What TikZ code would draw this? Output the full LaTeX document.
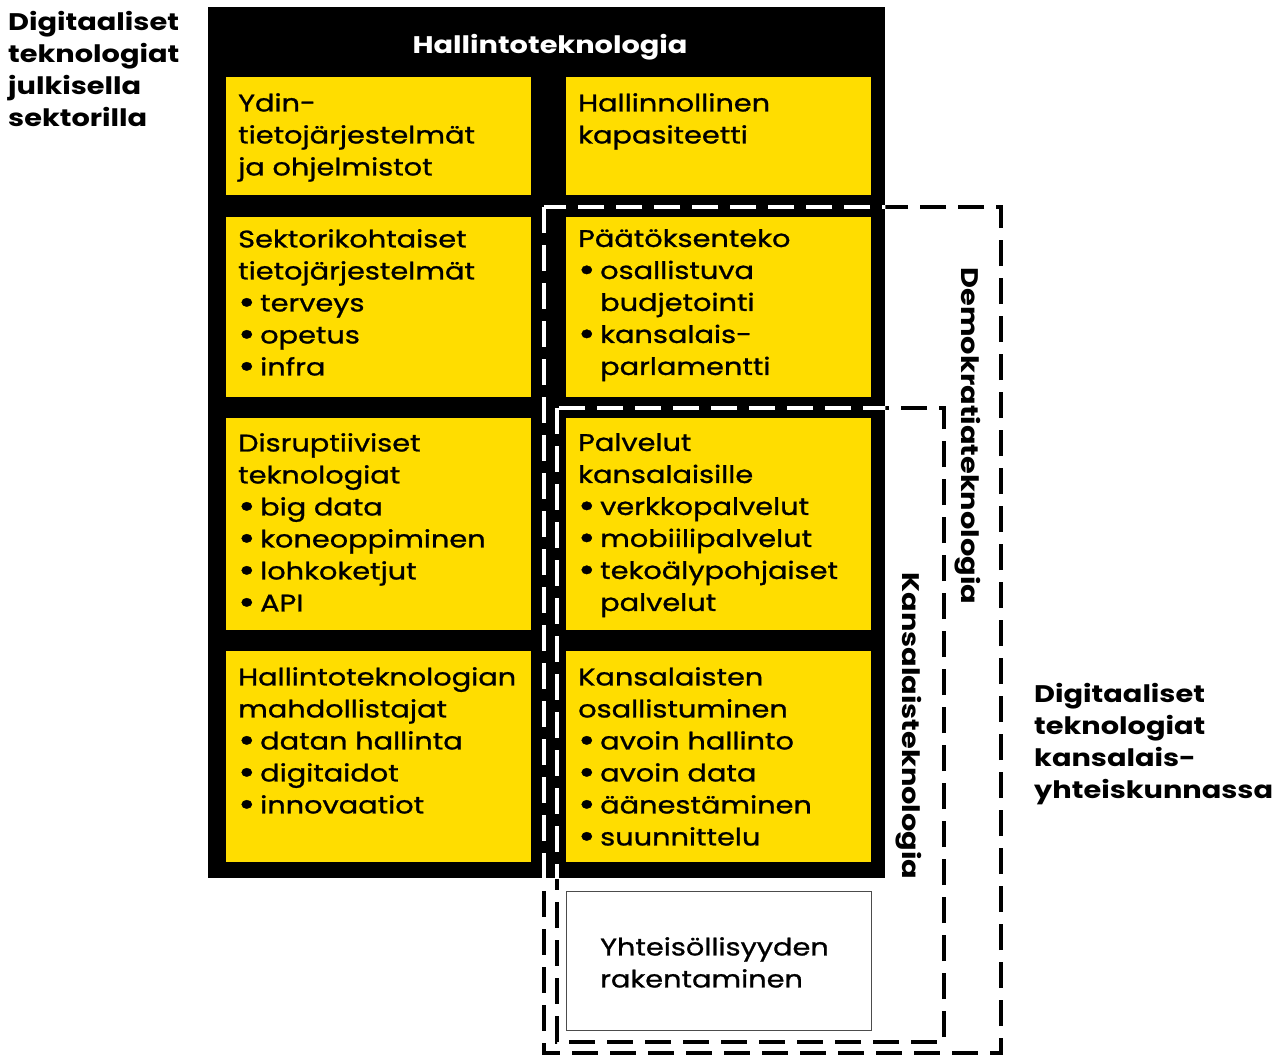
\documentclass[tikz,border=0pt]{standalone}
\usepackage{fontspec}
\setmainfont{Poppins}[FakeStretch=1.2,UprightFeatures={FakeBold=1}]
\definecolor{ylw}{RGB}{255,221,0}
\begin{document}
\begin{tikzpicture}[x=1pt,y=-1pt,
  cell/.style={fill=ylw,draw=none,anchor=north west,inner sep=0},
  txt/.style={anchor=north west,align=left,inner sep=0,font=\fontsize{24}{32}\selectfont},
  bfnt/.style={font=\fontsize{24}{32}\selectfont\bfseries},
  btxt/.style={anchor=north west,align=left,inner sep=0,bfnt},
  dsh/.style={line width=4pt,dash pattern=on 26pt off 12pt}]
\newcommand{\bl}{\makebox[22pt][l]{\raisebox{-2.5pt}{\scalebox{1.45}{•}}}}
\newcommand{\ind}{\hspace*{22pt}}
\useasboundingbox (0,0) rectangle (1274,1057);
% black frame
\node[fill=black,anchor=north west,inner sep=0,minimum width=677pt,minimum height=871pt] (frame) at (208,7) {};
\node[bfnt,text=white] (title) at (550,47) {Hallintoteknologia};
% cells
\foreach \n/\x/\y/\h in {a/226/77/118,b/566/77/118,c/226/217/180,d/566/217/180,e/226/418/212,f/566/418/212,g/226/651/211,h/566/651/211}{
  \node[cell,minimum width=305pt,minimum height=\h pt] (\n) at (\x,\y) {};
}
\node[draw=black!70,line width=1pt,fill=white,anchor=north west,inner sep=0,minimum width=305pt,minimum height=139pt] (w) at (566,891) {};
% texts
\node[txt] (ta) at ([shift={(12,16)}]a.north west) {Ydin-\\tietojärjestelmät\\ja ohjelmistot};
\node[txt] (tb) at ([shift={(12,16)}]b.north west) {Hallinnollinen\\kapasiteetti};
\node[txt] (tc) at ([shift={(12,12)}]c.north west) {Sektorikohtaiset\\tietojärjestelmät\\\bl terveys\\\bl opetus\\\bl infra};
\node[txt] (td) at ([shift={(12,12)}]d.north west) {Päätöksenteko\\\bl osallistuva\\\ind budjetointi\\\bl kansalais-\\\ind parlamentti};
\node[txt] (te) at ([shift={(12,15)}]e.north west) {Disruptiiviset\\teknologiat\\\bl big data\\\bl koneoppiminen\\\bl lohkoketjut\\\bl API};
\node[txt] (tf) at ([shift={(12,15)}]f.north west) {Palvelut\\kansalaisille\\\bl verkkopalvelut\\\bl mobiilipalvelut\\\bl tekoälypohjaiset\\\ind palvelut};
\node[txt] (tg) at ([shift={(12,16)}]g.north west) {Hallintoteknologian\\mahdollistajat\\\bl datan hallinta\\\bl digitaidot\\\bl innovaatiot};
\node[txt] (th) at ([shift={(12,16)}]h.north west) {Kansalaisten\\osallistuminen\\\bl avoin hallinto\\\bl avoin data\\\bl äänestäminen\\\bl suunnittelu};
\node[txt] (tw) at ([shift={(34,46)}]w.north west) {Yhteisöllisyyden\\rakentaminen};
% side labels
\node[btxt] (left) at (8,11) {Digitaaliset\\teknologiat\\julkisella\\sektorilla};
\node[btxt] (right) at (1034,683) {Digitaaliset\\teknologiat\\kansalais-\\yhteiskunnassa};
\node[bfnt,rotate=-90] (demo) at (968,436) {Demokratiateknologia};
\node[bfnt,rotate=-90] (kans) at (909,726) {Kansalaisteknologia};
% dashed boxes
\coordinate (d1) at (544,207); \coordinate (d2) at (1001,1053);
\coordinate (k1) at (557,408); \coordinate (k2) at (944,1042);
\draw[dsh,black] (d1) rectangle (d2);
\draw[dsh,black] (k1) rectangle (k2);
\begin{scope}
\clip (frame.north west) rectangle (frame.south east);
\draw[dsh,white] (d1) rectangle (d2);
\draw[dsh,white] (k1) rectangle (k2);
\end{scope}
\end{tikzpicture}
\end{document}
